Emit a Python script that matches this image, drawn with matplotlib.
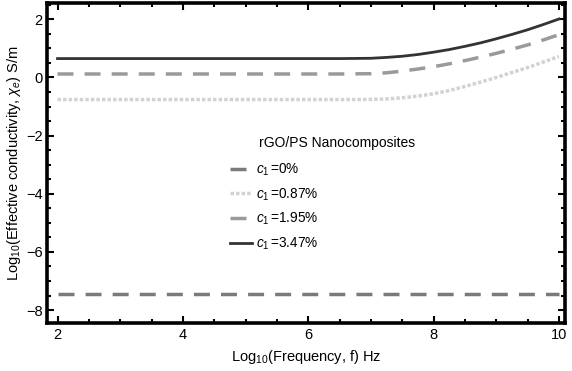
import numpy as np
import matplotlib
matplotlib.use("Agg")
import matplotlib.pyplot as plt
from matplotlib.ticker import MultipleLocator

plt.rcParams['font.family'] = ['Liberation Sans', 'DejaVu Sans']
plt.rcParams['mathtext.fontset'] = 'custom'
plt.rcParams['mathtext.rm'] = 'Liberation Sans'
plt.rcParams['mathtext.it'] = 'Liberation Sans:italic'

# log10 frequency grid
log_f = [2.0, 6.5, 7.0, 7.25, 7.5, 7.75, 8.0, 8.25, 8.5, 8.75, 9.0, 9.25, 9.5, 9.75, 10.0]

# log10 effective conductivity for each filler content
sigma_0 = [-7.45] * len(log_f)
sigma_087 = [-0.76, -0.76, -0.755, -0.74, -0.70, -0.64, -0.56, -0.45, -0.31, -0.16, 0.0, 0.17, 0.34, 0.53, 0.72]
sigma_195 = [0.12, 0.12, 0.13, 0.16, 0.22, 0.29, 0.37, 0.47, 0.58, 0.70, 0.83, 0.97, 1.12, 1.29, 1.47]
sigma_347 = [0.65, 0.65, 0.66, 0.69, 0.73, 0.79, 0.87, 0.96, 1.07, 1.19, 1.33, 1.48, 1.64, 1.82, 2.01]

labels = ["$c_1\\,$=0%", "$c_1\\,$=0.87%", "$c_1\\,$=1.95%", "$c_1\\,$=3.47%"]
legend_title = "rGO/PS Nanocomposites"

fig = plt.figure(figsize=(5.72, 3.71), dpi=100)
ax = fig.add_axes([0.083, 0.129, 0.905, 0.862])

ax.plot(log_f, sigma_0, color='#7a7a7a', lw=2.5, dashes=(4.6, 3.2), label=labels[0])
ax.plot(log_f, sigma_087, color='#d2d2d2', lw=2.5, dashes=(1, 0.6), label=labels[1])
ax.plot(log_f, sigma_195, color='#9a9a9a', lw=2.5, dashes=(4.6, 3.2), label=labels[2])
ax.plot(log_f, sigma_347, color='#333333', lw=2.0, label=labels[3])

ax.set_xlim(1.84, 10.1)
ax.set_ylim(-8.45, 2.55)
ax.xaxis.set_major_locator(MultipleLocator(2))
ax.xaxis.set_minor_locator(MultipleLocator(0.5))
ax.yaxis.set_major_locator(MultipleLocator(2))
ax.yaxis.set_minor_locator(MultipleLocator(0.5))
ax.tick_params(which='both', direction='in', top=True, right=True, labelsize=10.5, width=1.5)
ax.tick_params(which='major', length=5)
ax.tick_params(which='minor', length=3)
for s in ax.spines.values():
    s.set_linewidth(2.6)

ax.set_xlabel("Log$_{10}$(Frequency, f) Hz", fontsize=10.5, labelpad=4)
ax.set_ylabel("Log$_{10}$(Effective conductivity, $\\chi_e$) S/m", fontsize=10.5, labelpad=2)

# legend title drawn separately so it can sit offset from the handles
ax.text(0.409, 0.5625, legend_title, transform=ax.transAxes, fontsize=10, va='center', ha='left')
leg = ax.legend(loc='upper left', bbox_to_anchor=(0.353, 0.506), frameon=False,
                fontsize=9.8, borderpad=0, borderaxespad=0,
                handlelength=1.6, handletextpad=0.3, labelspacing=0.62)

fig.savefig("out.png", dpi=100)
